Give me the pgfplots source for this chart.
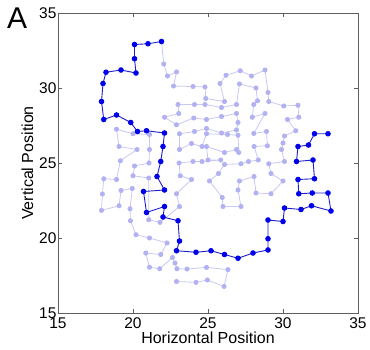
\documentclass[border=0pt]{standalone}
\usepackage{fontspec}
\setmainfont{Liberation Sans}
\usepackage{pgfplots}
\pgfplotsset{compat=1.18}
\definecolor{darkb}{RGB}{0,0,235}
\definecolor{darkl}{RGB}{30,30,200}
\definecolor{lightm}{RGB}{178,178,242}
\definecolor{lightl}{RGB}{200,200,242}
\definecolor{axgray}{RGB}{95,95,95}
\begin{document}
\begin{tikzpicture}
\path[use as bounding box] (-58pt,-36pt) rectangle (312pt,313pt);
\begin{axis}[
  scale only axis, width=300pt, height=300pt,
  xmin=15, xmax=35, ymin=15, ymax=35,
  xtick={15,20,...,35}, ytick={15,20,...,35},
  tick align=inside, major tick length=4pt,
  axis line style={axgray}, tick style={axgray, line width=0.6pt},
  /pgf/number format/assume math mode=true,
  tick label style={font=\fontsize{15.5}{18}\selectfont},
  xticklabel style={yshift=-1pt},
  yticklabel style={xshift=2pt},
  xlabel={Horizontal Position}, ylabel={Vertical Position},
  label style={font=\fontsize{16}{19}\selectfont},
  xlabel style={at={(axis description cs:0.5,-0.1033)}, anchor=base},
  ylabel style={at={(axis description cs:-0.0833,0.5)}, anchor=base},
  clip=false,
]
\addplot[color=lightl, line width=0.8pt, mark=*, mark size=2.1pt,
  mark options={draw=lightm, fill=lightm}] coordinates {
(21.9,33.1) (22.05,31.6) (22.3,30.8) (22.9,31.07) (22.7,30.13) (24.0,30.1)
(24.8,30.07) (24.85,29.3) (26.1,29.1) (25.8,30.3) (26.2,30.85) (27.15,31.15)
(27.9,30.8) (28.8,31.2) (29.0,29.7) (29.05,29.1) (30.05,28.8) (31.0,28.85)
(31.05,28.05) (30.3,27.9) (30.85,27.15) (30.1,26.8) (30.0,26.33) (29.9,25.9)
(30.1,25.1) (29.05,24.95) (29.2,24.3) (30.0,23.8) (29.2,22.95) (28.2,23.0)
(28.07,24.1) (27.1,23.8) (27.0,23.2) (27.2,22.1) (26.0,22.1) (25.95,22.7)
(25.1,23.8) (25.7,24.3) (26.1,24.9) (27.2,24.95) (27.7,25.1) (28.35,25.2)
(28.07,26.1) (28.96,26.15) (28.9,27.1) (28.05,26.97) (28.8,28.3) (27.95,28.05)
(28.05,28.9) (28.3,29.15) (28.2,30.0) (27.1,30.27) (26.9,28.9) (25.9,28.7)
(24.8,28.9) (24.1,28.9) (23.0,28.9) (23.05,28.3) (22.1,28.05) (22.9,27.55)
(24.05,28.0) (24.9,27.9) (25.9,28.1) (26.9,28.3) (27.0,27.7) (26.9,27.2)
(25.9,27.0) (24.9,27.3) (24.1,27.1) (23.1,26.95) (23.1,25.9) (23.9,26.3)
(24.6,26.1) (24.9,26.95) (26.3,26.9) (27.0,26.85) (27.05,25.7) (26.9,25.9)
(26.1,25.7) (24.9,26.1) (25.0,25.2) (25.85,25.2) (24.6,25.1) (24.0,25.1)
(23.07,25.0) (23.15,24.15) (23.9,23.9) (22.9,22.95) (23.1,22.1) (21.8,21.04)
(21.05,21.22) (21.05,24.0) (20.0,24.15) (20.1,24.8) (21.07,25.0) (21.1,25.9)
(21.1,26.9) (20.0,26.95) (18.9,27.25) (19.07,26.1) (20.27,25.9) (19.16,25.15)
(18.9,23.9) (18.05,23.95) (17.96,22.93) (17.9,21.84) (19.07,22.15) (19.2,23.17)
(19.95,23.3) (19.8,21.95) (19.83,21.15) (20.2,20.22) (21.1,20.0) (22.27,19.67)
(21.85,18.9) (20.85,19.0) (21.1,18.05) (21.78,17.95) (22.63,18.7) (22.8,18.33)
(22.93,17.95) (23.6,17.93) (24.9,18.04) (26.33,17.89) (26.07,16.77) (24.96,17.2)
(24.2,17.04) (22.9,17.1)
};
\addplot[color=darkl, line width=0.9pt, mark=*, mark size=2.3pt,
  mark options={draw=darkb, fill=darkb}] coordinates {
(33.0,26.95) (32.1,26.95) (31.7,26.2) (31.0,26.1) (30.9,25.1) (32.0,25.2)
(32.1,23.95) (31.0,23.9) (31.05,22.95) (31.95,23.0) (33.0,23.0) (33.2,21.8)
(31.9,22.15) (31.2,21.9) (30.1,22.0) (30.0,21.1) (29.0,21.2) (29.0,19.95)
(29.0,19.2) (28.0,19.0) (27.0,18.65) (26.1,18.9) (25.2,19.15) (24.2,19.05)
(22.9,19.15) (23.1,19.8) (23.0,21.15) (22.0,21.4) (22.1,22.1) (20.9,21.7)
(20.7,23.1) (22.1,23.2) (21.6,24.1) (21.85,25.1) (22.0,26.1) (22.1,27.0)
(20.9,27.15) (20.3,27.1) (19.85,27.7) (18.9,28.2) (18.05,27.9) (17.9,29.1)
(18.0,30.3) (18.2,31.05) (19.2,31.2) (20.2,31.0) (20.1,31.95) (20.1,32.9)
(21.0,32.95) (21.9,33.1)
};
\end{axis}
\node[anchor=base west, inner sep=0pt, font=\fontsize{30}{30}\selectfont] at (-51pt,285pt) {A};
\end{tikzpicture}
\end{document}
